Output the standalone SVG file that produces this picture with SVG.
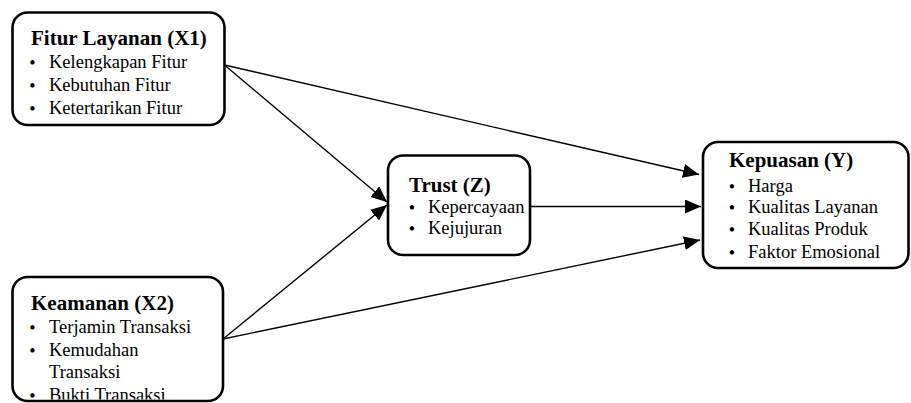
<svg xmlns="http://www.w3.org/2000/svg" width="911" height="403" viewBox="0 0 911 403">
<style>
.box{fill:#fff;stroke:#000;stroke-width:2.6}
.t{font-family:"Liberation Serif","Times New Roman",serif;font-weight:bold;font-size:21px;fill:#000}
.b{font-family:"Liberation Serif","Times New Roman",serif;font-size:18.5px;fill:#000}
.d{font-family:"Liberation Serif","Times New Roman",serif;font-size:18px;fill:#000;text-anchor:middle}
.c{stroke:#000;stroke-width:1.4;fill:none;marker-end:url(#ah)}
</style>
<defs>
<marker id="ah" markerUnits="userSpaceOnUse" markerWidth="17" markerHeight="15" refX="16" refY="7" orient="auto">
<path d="M0,0 L16,7 L0,14 Z" fill="#000"/>
</marker>
<clipPath id="clipX2"><rect x="14" y="279" width="207" height="120.5"/></clipPath>
</defs>
<rect width="911" height="403" fill="#fff"/>
<g id="connectors">
<line class="c" x1="224.5" y1="65" x2="699" y2="174.5"/>
<line class="c" x1="224.5" y1="65" x2="387" y2="202"/>
<line class="c" x1="223" y1="339" x2="387" y2="205"/>
<line class="c" x1="223" y1="339" x2="700" y2="240"/>
<line class="c" x1="530" y1="206.5" x2="701" y2="206.5"/>
</g>
<g id="x1">
<rect class="box" x="12.5" y="12.5" width="212" height="112.5" rx="15"/>
<text class="t" x="31" y="45">Fitur Layanan (X1)</text>
<text class="d" x="32.5" y="69">•</text>
<text class="b" x="49" y="68">Kelengkapan Fitur</text>
<text class="d" x="32.5" y="92">•</text>
<text class="b" x="49" y="91">Kebutuhan Fitur</text>
<text class="d" x="32.5" y="115">•</text>
<text class="b" x="49" y="114">Ketertarikan Fitur</text>
</g>
<g id="x2">
<rect class="box" x="12.5" y="277" width="210.5" height="124" rx="15"/>
<g clip-path="url(#clipX2)">
<text class="t" x="31" y="310">Keamanan (X2)</text>
<text class="d" x="32.5" y="334">•</text>
<text class="b" x="49" y="333">Terjamin Transaksi</text>
<text class="d" x="32.5" y="357">•</text>
<text class="b" x="49" y="356">Kemudahan</text>
<text class="b" x="49" y="378">Transaksi</text>
<text class="d" x="32.5" y="402">•</text>
<text class="b" x="49" y="401">Bukti Transaksi</text>
</g>
</g>
<g id="z">
<rect class="box" x="388" y="155.5" width="142" height="99.5" rx="15"/>
<text class="t" x="409" y="192">Trust (Z)</text>
<text class="d" x="412" y="214">•</text>
<text class="b" x="428" y="213">Kepercayaan</text>
<text class="d" x="412" y="235">•</text>
<text class="b" x="428" y="234">Kejujuran</text>
</g>
<g id="y">
<rect class="box" x="703" y="142" width="205.5" height="126" rx="15"/>
<text class="t" x="729" y="167">Kepuasan (Y)</text>
<text class="d" x="732" y="193">•</text>
<text class="b" x="748" y="192">Harga</text>
<text class="d" x="732" y="214">•</text>
<text class="b" x="748" y="213">Kualitas Layanan</text>
<text class="d" x="732" y="236">•</text>
<text class="b" x="748" y="235">Kualitas Produk</text>
<text class="d" x="732" y="259">•</text>
<text class="b" x="748" y="258">Faktor Emosional</text>
</g>
</svg>
